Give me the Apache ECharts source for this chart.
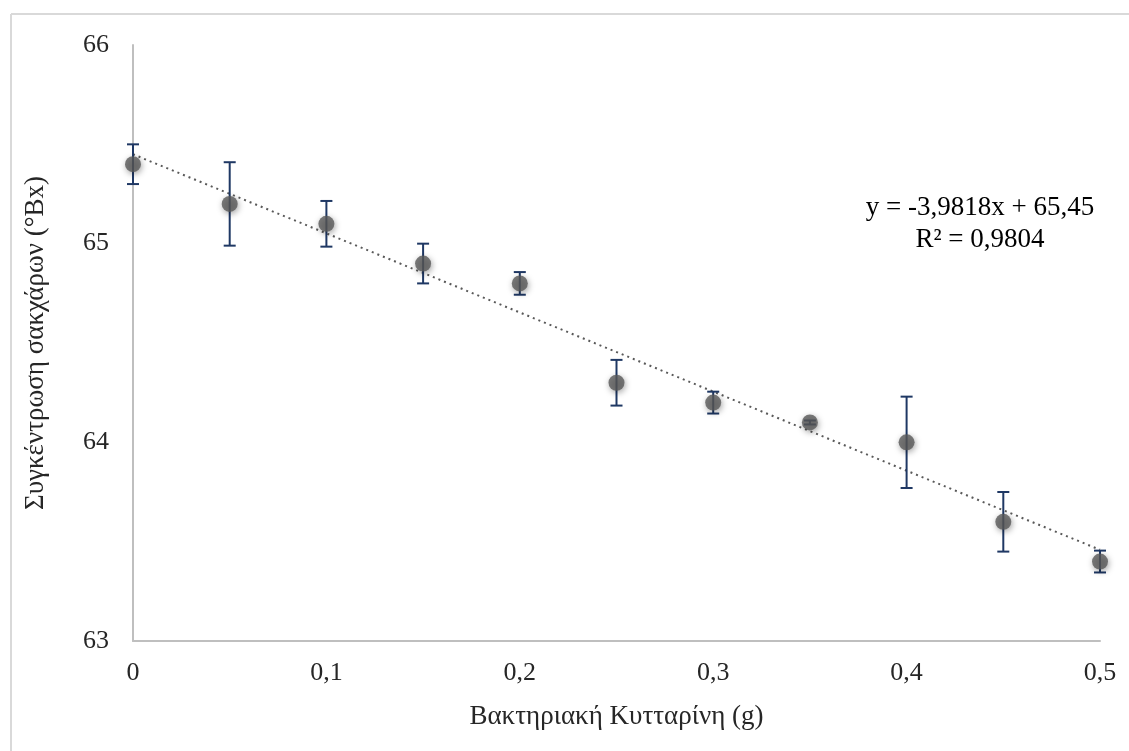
<!DOCTYPE html>
<html>
<head>
<meta charset="utf-8">
<script src="https://cdn.jsdelivr.net/npm/echarts@6/dist/echarts.min.js"></script>
<style>
html,body{margin:0;padding:0;background:#fff;}
#c{width:1129px;height:751px;}
</style>
</head>
<body>
<div id="c"></div>
<script>
// ---- data ----
var xValues = [0, 0.05, 0.1, 0.15, 0.2, 0.25, 0.3, 0.35, 0.4, 0.45, 0.5];
var yValues = [65.4, 65.2, 65.1, 64.9, 64.8, 64.3, 64.2, 64.1, 64.0, 63.6, 63.4];
var errValues = [0.1, 0.21, 0.115, 0.1, 0.057, 0.115, 0.055, 0.01, 0.23, 0.15, 0.055];
var trendSlope = -3.9818;
var trendIntercept = 65.45;
var trendX = [0, 0.5];
var equationLines = ['y = -3,9818x + 65,45', 'R² = 0,9804'];
var xTickLabels = ['0', '0,1', '0,2', '0,3', '0,4', '0,5'];
var yTickLabels = ['63', '64', '65', '66'];
var xTitle = 'Βακτηριακή Κυτταρίνη (g)';
var yTitle = 'Συγκέντρωση σακχάρων (°Bx)';

var FONT = 'Liberation Serif';
var chart = echarts.init(document.getElementById('c'), null, {renderer: 'canvas'});

var points = xValues.map(function (x, i) { return [x, yValues[i]]; });
var errData = xValues.map(function (x, i) { return [x, yValues[i] - errValues[i], yValues[i] + errValues[i]]; });
var trendData = trendX.map(function (x) { return [x, trendSlope * x + trendIntercept]; });

var option = {
  animation: false,
  backgroundColor: '#ffffff',
  textStyle: {fontFamily: FONT},
  grid: {left: 133, right: 29, top: 45, bottom: 110, containLabel: false},
  graphic: [
    {type: 'line', shape: {x1: 11, y1: 14, x2: 1129, y2: 14}, style: {stroke: '#d9d9d9', lineWidth: 2}, silent: true},
    {type: 'line', shape: {x1: 11, y1: 14, x2: 11, y2: 751}, style: {stroke: '#d9d9d9', lineWidth: 2}, silent: true},
    {type: 'text', x: 980, y: 208, style: {text: equationLines[0], fontFamily: FONT, fontSize: 27, fill: '#000', align: 'center', verticalAlign: 'middle'}, silent: true},
    {type: 'text', x: 980, y: 240, style: {text: equationLines[1], fontFamily: FONT, fontSize: 27, fill: '#000', align: 'center', verticalAlign: 'middle'}, silent: true}
  ],
  xAxis: {
    type: 'value', min: 0, max: 0.5, interval: 0.1,
    name: xTitle, nameLocation: 'middle', nameGap: 62,
    nameTextStyle: {fontFamily: FONT, fontSize: 27, color: '#262626'},
    axisLine: {show: true, lineStyle: {color: '#bfbfbf', width: 2}},
    axisTick: {show: false},
    splitLine: {show: false},
    axisLabel: {
      margin: 19, fontFamily: FONT, fontSize: 26, color: '#262626',
      formatter: function (v) { return xTickLabels[Math.round(v * 10)]; }
    }
  },
  yAxis: {
    type: 'value', min: 63, max: 66, interval: 1,
    name: yTitle, nameLocation: 'middle', nameGap: 84,
    nameTextStyle: {fontFamily: FONT, fontSize: 27, color: '#262626'},
    axisLine: {show: true, lineStyle: {color: '#bfbfbf', width: 2}},
    axisTick: {show: false},
    splitLine: {show: false},
    axisLabel: {
      margin: 24, fontFamily: FONT, fontSize: 26, color: '#262626',
      formatter: function (v) { return yTickLabels[Math.round(v - 63)]; }
    }
  },
  series: [
    {
      type: 'line', data: trendData, symbol: 'none', z: 2,
      lineStyle: {color: '#595959', width: 2, type: [2, 4]}
    },
    {
      type: 'custom', z: 3,
      data: errData,
      renderItem: function (params, api) {
        var x = api.value(0);
        var lo = api.coord([x, api.value(1)]);
        var hi = api.coord([x, api.value(2)]);
        var hw = 6;
        var st = {stroke: '#1f3864', lineWidth: 2};
        return {type: 'group', children: [
          {type: 'line', shape: {x1: lo[0], y1: lo[1], x2: hi[0], y2: hi[1]}, style: st},
          {type: 'line', shape: {x1: lo[0] - hw, y1: lo[1], x2: lo[0] + hw, y2: lo[1]}, style: st},
          {type: 'line', shape: {x1: hi[0] - hw, y1: hi[1], x2: hi[0] + hw, y2: hi[1]}, style: st}
        ]};
      },
      encode: {x: 0, y: [1, 2]}
    },
    {
      type: 'scatter', data: points, z: 4,
      symbol: 'circle', symbolSize: 16,
      itemStyle: {color: '#595959', shadowColor: 'rgba(0,0,0,0.45)', shadowBlur: 6, shadowOffsetX: 1, shadowOffsetY: 2}
    }
  ]
};
chart.setOption(option);
</script>
</body>
</html>
